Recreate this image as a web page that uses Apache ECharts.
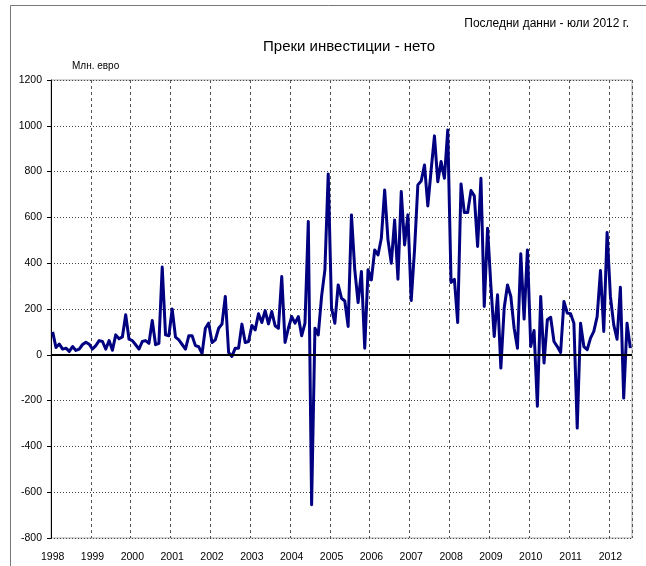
<!DOCTYPE html>
<html>
<head>
<meta charset="utf-8">
<script src="https://cdn.jsdelivr.net/npm/echarts@6/dist/echarts.min.js"></script>
<style>
  html, body { margin: 0; padding: 0; background: #fff; }
  #chart { width: 646px; height: 566px; }
</style>
</head>
<body>
<div id="chart"></div>
<script>
// Net foreign direct investment, million EUR, monthly Jan 1998 - Jul 2012
var years = ['1998', '1999', '2000', '2001', '2002', '2003', '2004', '2005',
             '2006', '2007', '2008', '2009', '2010', '2011', '2012'];

var v1998 = [100, 32, 47, 25, 29, 15, 36, 19, 25, 45, 55, 46];
var v1999 = [25, 40, 62, 58, 25, 62, 20, 87, 70, 78, 175, 68];
var v2000 = [62, 44, 25, 58, 62, 50, 150, 44, 50, 383, 87, 83];
var v2001 = [200, 77, 65, 45, 25, 83, 83, 40, 35, 5, 116, 138];
var v2002 = [54, 65, 116, 134, 255, 10, -7, 29, 29, 134, 54, 58];
var v2003 = [128, 109, 179, 141, 193, 135, 189, 127, 116, 342, 54, 116];
var v2004 = [167, 138, 167, 83, 138, 582, -655, 116, 87, 255, 371, 790];
var v2005 = [204, 138, 305, 247, 235, 124, 611, 371, 228, 364, 29, 371];
var v2006 = [327, 458, 436, 509, 720, 502, 400, 589, 330, 713, 480, 611];
var v2007 = [237, 458, 742, 759, 829, 650, 807, 956, 756, 844, 771, 982];
var v2008 = [316, 330, 141, 746, 621, 621, 717, 694, 473, 771, 211, 553];
var v2009 = [300, 80, 262, -58, 204, 305, 255, 116, 29, 441, 156, 458];
var v2010 = [36, 106, -225, 255, -36, 153, 164, 58, 36, 10, 233, 182];
var v2011 = [179, 138, -320, 138, 36, 22, 73, 102, 167, 368, 102, 534];
var v2012 = [255, 131, 68, 295, -189, 138, 29];

var yTicks = [-800, -600, -400, -200, 0, 200, 400, 600, 800, 1000, 1200];

var values = [].concat(v1998, v1999, v2000, v2001, v2002, v2003, v2004, v2005,
                       v2006, v2007, v2008, v2009, v2010, v2011, v2012);
var months = values.map(function (v, i) {
  var m = i % 12 + 1;
  return years[Math.floor(i / 12)] + '-' + (m < 10 ? '0' + m : m);
});

var FONT = '"Liberation Sans", Arial, sans-serif';
var yearTick = function (idx) { return idx % 12 === 0; };

var myChart = echarts.init(document.getElementById('chart'), null, { renderer: 'canvas' });

myChart.setOption({
  animation: false,
  backgroundColor: '#fff',
  title: [
    {
      text: 'Преки инвестиции - нето',
      left: 344, top: 34, textAlign: 'center',
      textStyle: { fontFamily: FONT, fontSize: 15, fontWeight: 'normal', color: '#000' }
    },
    {
      text: 'Последни данни - юли 2012 г.',
      right: 12, top: 13,
      textStyle: { fontFamily: FONT, fontSize: 12, fontWeight: 'normal', color: '#000' }
    },
    {
      text: 'Млн. евро',
      left: 67, top: 56,
      textStyle: { fontFamily: FONT, fontSize: 10, fontWeight: 'normal', color: '#000' }
    }
  ],
  graphic: [
    {
      type: 'rect', left: 8, top: 3, silent: true,
      shape: { width: 700, height: 700 },
      style: { fill: 'none', stroke: '#777', lineWidth: 1 }
    }
  ],
  grid: {
    left: 51, right: 14, top: 80, bottom: 28,
    show: true, borderColor: '#aaa', borderWidth: 1, backgroundColor: 'transparent'
  },
  xAxis: {
    type: 'category',
    data: months,
    boundaryGap: true,
    axisLine: { show: false },
    axisTick: { show: false, interval: yearTick },
    axisLabel: {
      interval: yearTick,
      formatter: function (val) { return val.slice(0, 4); },
      fontFamily: FONT, fontSize: 10.5, color: '#000', margin: 14
    },
    splitLine: {
      show: true, interval: yearTick,
      lineStyle: { color: '#555', type: [3, 3], width: 1 }
    }
  },
  yAxis: {
    type: 'value',
    min: yTicks[0],
    max: yTicks[yTicks.length - 1],
    interval: 200,
    axisLine: { show: true, lineStyle: { color: '#000', width: 1 } },
    axisTick: { show: true, length: 4, lineStyle: { color: '#000' } },
    axisLabel: {
      fontFamily: FONT, fontSize: 10.5, color: '#000', margin: 9,
      formatter: function (v) { return String(v); }
    },
    splitLine: { show: true, lineStyle: { color: '#444', type: [1, 2], width: 1 } }
  },
  series: [
    {
      name: 'Преки инвестиции - нето',
      type: 'line',
      data: values,
      showSymbol: false,
      symbol: 'none',
      lineStyle: { color: '#000080', width: 3, join: 'round' },
      itemStyle: { color: '#000080' },
      markLine: {
        silent: true,
        symbol: 'none',
        label: { show: false },
        lineStyle: { color: '#000', width: 2, type: 'solid' },
        data: [{ yAxis: 0 }]
      },
      z: 3
    }
  ]
});
</script>
</body>
</html>
